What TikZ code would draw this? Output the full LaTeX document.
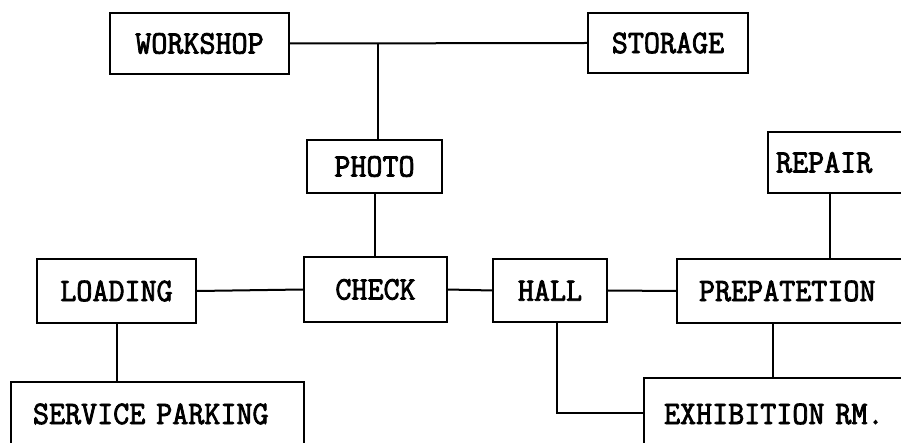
\documentclass[tikz,border=0pt]{standalone}
\usepackage{fontspec}
\newfontfamily\twfont{Latin Modern Mono}[FakeStretch=0.95,FakeBold=2.5]
\begin{document}
\begin{tikzpicture}[x=1pt,y=-1pt,
  room/.style={draw, line width=2pt, inner sep=0pt, font=\twfont\fontsize{32.8}{36}\selectfont},
  lroom/.style={room, anchor=north west, align=left},
  link/.style={line width=2pt}]
\useasboundingbox (0,0) rectangle (901,443);
\clip (0,0) rectangle (901,443);
% centred rooms
\node[room, minimum width=179pt, minimum height=61pt] (workshop) at (199.5,43.5) {WORKSHOP};
\node[room, minimum width=160pt, minimum height=60pt] (storage) at (668,43) {STORAGE};
\node[room, minimum width=135pt, minimum height=53pt] (photo) at (374.5,166.5) {PHOTO};
\node[room, minimum width=143pt, minimum height=65pt] (check) at (375.5,289.5) {CHECK};
\node[room, minimum width=159pt, minimum height=64pt] (loading) at (116.5,291) {LOADING};
\node[room, minimum width=114pt, minimum height=63pt] (hall) at (550,290.5) {HALL};
% rooms cut by the picture edge
\node[lroom, inner xsep=8pt, text width=200pt, minimum height=61pt, anchor=west] (repair) at (767,162.5) {REPAIR};
\node[lroom, inner xsep=22pt, text width=240pt, minimum height=64pt, anchor=west] (prep) at (676,291) {PREPATETION};
\node[lroom, inner xsep=22pt, inner ysep=0pt, text width=249pt, text height=42pt, text depth=60pt] (service) at (10,381) {SERVICE PARKING};
\node[lroom, inner xsep=20pt, inner ysep=0pt, text width=280pt, text height=46pt, text depth=60pt] (exhib) at (643,377) {EXHIBITION RM.};
% connectors
\coordinate (j1) at (378,0);
\coordinate (rp) at (830,0);
\coordinate (pe) at (773,0);
\coordinate (hx) at (557,0);
\draw[link] (workshop.east) -- (storage.west);
\draw[link] (j1 |- workshop.east) -- (j1 |- photo.north);
\draw[link] (photo.south) -- (photo.south |- check.north);
\draw[link] (loading.east) -- (check.west);
\draw[link] (check.east) -- (hall.west);
\draw[link] (hall.east) -- (prep.west);
\draw[link] (rp |- repair.south) -- (rp |- prep.north);
\draw[link] (loading.south) -- (loading.south |- service.north);
\draw[link] (pe |- prep.south) -- (pe |- exhib.north);
\draw[link] (hx |- hall.south) |- ([yshift=-36pt]exhib.north west);
\end{tikzpicture}
\end{document}
